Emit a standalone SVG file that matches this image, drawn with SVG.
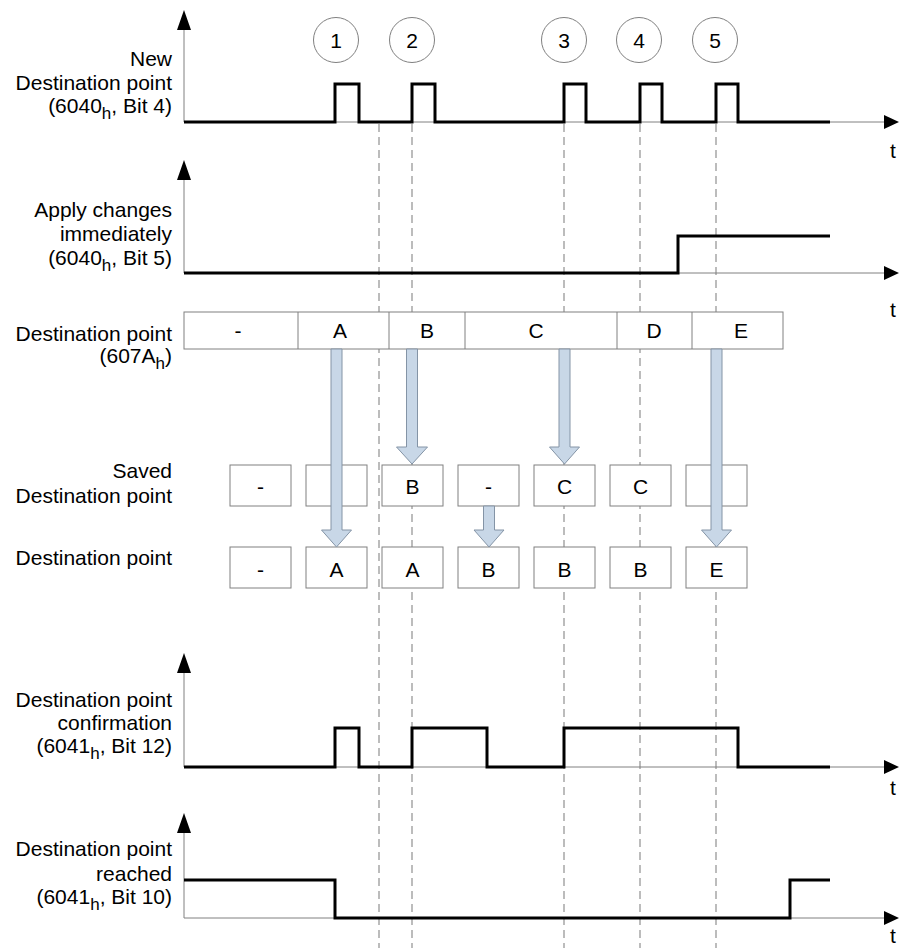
<svg xmlns="http://www.w3.org/2000/svg" width="899" height="948" viewBox="0 0 899 948">
<style>
text{font-family:"Liberation Sans",Arial,sans-serif;font-size:21px;fill:#000}
.lbl{text-anchor:end}
.c{text-anchor:middle}
.sub{font-size:17px}
.axis{stroke:#808080;stroke-width:1;fill:none}
.sig{stroke:#000;stroke-width:3;fill:none;stroke-linejoin:miter}
.dash{stroke:#909090;stroke-width:1.2;stroke-dasharray:8,5;fill:none}
.box{fill:#fff;stroke:#808080;stroke-width:1}
.circ{fill:#fff;stroke:#808080;stroke-width:1}
.barrow{fill:#c8d7e7;stroke:#8494a6;stroke-width:1}
.head{fill:#000}
</style>
<rect width="899" height="948" fill="#fff"/>

<!-- dashed time markers -->
<g id="markers">
<line class="dash" x1="379" y1="124" x2="379" y2="948"/>
<line class="dash" x1="412" y1="124" x2="412" y2="948"/>
<line class="dash" x1="564" y1="124" x2="564" y2="948"/>
<line class="dash" x1="640" y1="124" x2="640" y2="948"/>
<line class="dash" x1="716" y1="124" x2="716" y2="948"/>
</g>

<!-- Chart 1: New destination point -->
<g id="chart-new-dest">
<line class="axis" x1="184" y1="26" x2="184" y2="122"/>
<polygon class="head" points="184,10 177,30 191,30"/>
<line class="axis" x1="184" y1="122" x2="886" y2="122"/>
<polygon class="head" points="899,122 884,115 884,129"/>
<text x="893" y="158" class="c">t</text>
<polyline class="sig" points="184,122 335,122 335,84 359,84 359,122 412,122 412,84 435,84 435,122 564,122 564,84 586,84 586,122 640,122 640,84 662,84 662,122 716,122 716,84 738,84 738,122 830,122"/>
<text class="lbl" x="172" y="66">New</text>
<text class="lbl" x="172" y="90">Destination point</text>
<text class="lbl" x="172" y="113">(6040<tspan class="sub" dy="6">h</tspan><tspan dy="-6">, Bit 4)</tspan></text>
</g>

<g id="step1"><circle class="circ" cx="336" cy="40" r="22.5"/><text class="c" x="336" y="48">1</text></g>
<g id="step2"><circle class="circ" cx="412" cy="40" r="22.5"/><text class="c" x="412" y="48">2</text></g>
<g id="step3"><circle class="circ" cx="564" cy="40" r="22.5"/><text class="c" x="564" y="48">3</text></g>
<g id="step4"><circle class="circ" cx="639" cy="40" r="22.5"/><text class="c" x="639" y="48">4</text></g>
<g id="step5"><circle class="circ" cx="715" cy="40" r="22.5"/><text class="c" x="715" y="48">5</text></g>

<!-- Chart 2: Apply changes immediately -->
<g id="chart-apply">
<line class="axis" x1="184" y1="176" x2="184" y2="273"/>
<polygon class="head" points="184,160 177,180 191,180"/>
<line class="axis" x1="184" y1="273" x2="886" y2="273"/>
<polygon class="head" points="899,273 884,266 884,280"/>
<text x="893" y="317" class="c">t</text>
<polyline class="sig" points="184,273 678,273 678,236 830,236"/>
<text class="lbl" x="172" y="217">Apply changes</text>
<text class="lbl" x="172" y="241">immediately</text>
<text class="lbl" x="172" y="265">(6040<tspan class="sub" dy="6">h</tspan><tspan dy="-6">, Bit 5)</tspan></text>
</g>

<!-- Destination point bar (607Ah) -->
<g id="dest-bar">
<rect class="box" x="184" y="312" width="599" height="37"/>
<line class="axis" x1="298" y1="312" x2="298" y2="349"/>
<line class="axis" x1="389" y1="312" x2="389" y2="349"/>
<line class="axis" x1="465" y1="312" x2="465" y2="349"/>
<line class="axis" x1="617" y1="312" x2="617" y2="349"/>
<line class="axis" x1="692" y1="312" x2="692" y2="349"/>
<text class="c" x="238" y="338">-</text>
<text class="c" x="340" y="338">A</text>
<text class="c" x="427" y="338">B</text>
<text class="c" x="536" y="338">C</text>
<text class="c" x="654" y="338">D</text>
<text class="c" x="741" y="338">E</text>
<text class="lbl" x="172" y="341">Destination point</text>
<text class="lbl" x="172" y="363">(607A<tspan class="sub" dy="6">h</tspan><tspan dy="-6">)</tspan></text>
</g>

<!-- Saved destination point row -->
<g id="saved-row">
<text class="lbl" x="172" y="478">Saved</text>
<text class="lbl" x="172" y="503">Destination point</text>
<rect class="box" x="230" y="465" width="61" height="41"/><text class="c" x="260.5" y="494">-</text>
<rect class="box" x="306" y="465" width="61" height="41"/>
<rect class="box" x="382" y="465" width="61" height="41"/><text class="c" x="412.5" y="494">B</text>
<rect class="box" x="458" y="465" width="61" height="41"/><text class="c" x="488.5" y="494">-</text>
<rect class="box" x="534" y="465" width="61" height="41"/><text class="c" x="564.5" y="494">C</text>
<rect class="box" x="610" y="465" width="61" height="41"/><text class="c" x="640.5" y="494">C</text>
<rect class="box" x="686" y="465" width="61" height="41"/>
</g>

<!-- Destination point row -->
<g id="dest-row">
<text class="lbl" x="172" y="565">Destination point</text>
<rect class="box" x="230" y="547" width="61" height="41"/><text class="c" x="260.5" y="577">-</text>
<rect class="box" x="306" y="547" width="61" height="41"/><text class="c" x="336.5" y="577">A</text>
<rect class="box" x="382" y="547" width="61" height="41"/><text class="c" x="412.5" y="577">A</text>
<rect class="box" x="458" y="547" width="61" height="41"/><text class="c" x="488.5" y="577">B</text>
<rect class="box" x="534" y="547" width="61" height="41"/><text class="c" x="564.5" y="577">B</text>
<rect class="box" x="610" y="547" width="61" height="41"/><text class="c" x="640.5" y="577">B</text>
<rect class="box" x="686" y="547" width="61" height="41"/><text class="c" x="716.5" y="577">E</text>
</g>

<!-- Block arrows (connectors) -->
<g id="connectors">
<polygon class="barrow" points="331,349 342,349 342,530 351.5,530 336.5,547 321.5,530 331,530"/>
<polygon class="barrow" points="406.5,349 417.5,349 417.5,447 427.5,447 412,464 396.5,447 406.5,447"/>
<polygon class="barrow" points="559,349 570,349 570,447 579.5,447 564.5,464 549.5,447 559,447"/>
<polygon class="barrow" points="711,349 722,349 722,530 731.5,530 716.5,547 701.5,530 711,530"/>
<polygon class="barrow" points="483.5,506 494.5,506 494.5,530 504,530 489,547 474,530 483.5,530"/>
</g>

<!-- Chart 3: Destination point confirmation -->
<g id="chart-confirm">
<line class="axis" x1="184" y1="670" x2="184" y2="767"/>
<polygon class="head" points="184,653 177,673 191,673"/>
<line class="axis" x1="184" y1="767" x2="886" y2="767"/>
<polygon class="head" points="899,767 884,760 884,774"/>
<text x="893" y="795" class="c">t</text>
<polyline class="sig" points="184,767 335,767 335,728 359,728 359,767 412,767 412,728 487,728 487,767 564,767 564,728 738,728 738,767 830,767"/>
<text class="lbl" x="172" y="707">Destination point</text>
<text class="lbl" x="172" y="730">confirmation</text>
<text class="lbl" x="172" y="753">(6041<tspan class="sub" dy="6">h</tspan><tspan dy="-6">, Bit 12)</tspan></text>
</g>

<!-- Chart 4: Destination point reached -->
<g id="chart-reached">
<line class="axis" x1="184" y1="830" x2="184" y2="918"/>
<polygon class="head" points="184,813 177,833 191,833"/>
<line class="axis" x1="184" y1="918" x2="886" y2="918"/>
<polygon class="head" points="899,918 884,911 884,925"/>
<text x="893" y="943" class="c">t</text>
<polyline class="sig" points="184,880 335,880 335,918 790,918 790,880 830,880"/>
<text class="lbl" x="172" y="856">Destination point</text>
<text class="lbl" x="172" y="881">reached</text>
<text class="lbl" x="172" y="904">(6041<tspan class="sub" dy="6">h</tspan><tspan dy="-6">, Bit 10)</tspan></text>
</g>
</svg>
